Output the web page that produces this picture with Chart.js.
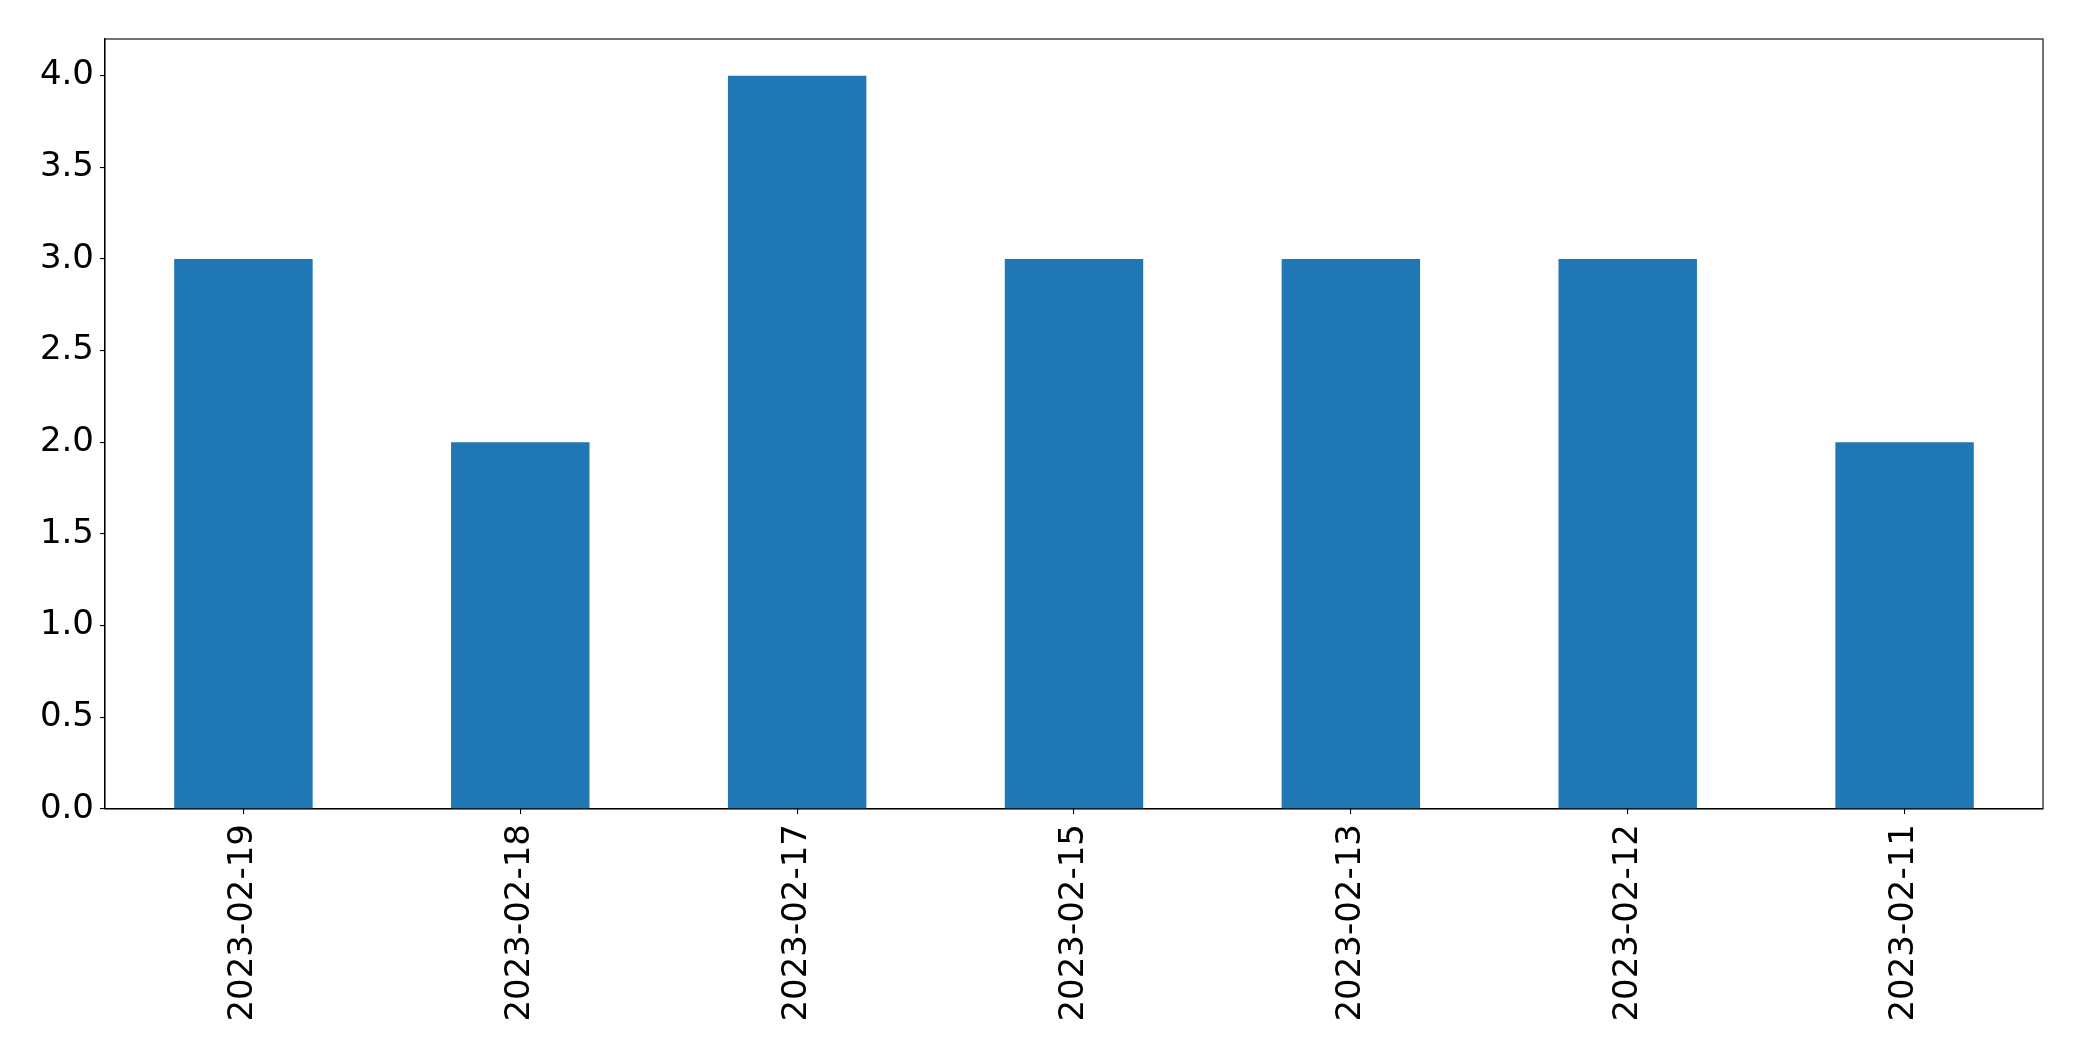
<!DOCTYPE html>
<html>
<head>
<meta charset="utf-8">
<script src="https://cdn.jsdelivr.net/npm/chart.js@4"></script>
<style>
  html, body { margin: 0; padding: 0; background: #fff; }
  #wrap { width: 2082px; height: 1061px; }
</style>
</head>
<body>
<div id="wrap"><canvas id="chart" width="2082" height="1061"></canvas></div>
<script>
const fechas = ["2023-02-19", "2023-02-18", "2023-02-17", "2023-02-15", "2023-02-13", "2023-02-12", "2023-02-11"];
const cantidades = [3, 2, 4, 3, 3, 3, 2];

// marco completo alrededor del area del grafico
const marco = {
  id: "marco",
  afterDraw(chart) {
    const { ctx, chartArea: a } = chart;
    ctx.save();
    ctx.strokeStyle = "#000";
    ctx.lineWidth = 1.1;
    ctx.strokeRect(a.left, a.top, a.right - a.left, a.bottom - a.top);
    ctx.restore();
  },
};

const config = {
  type: "bar",
  data: {
    labels: fechas,
    datasets: [
      {
        data: cantidades,
        backgroundColor: "#1f77b4",
        borderWidth: 0,
        barPercentage: 0.5,
        categoryPercentage: 1.0,
      },
    ],
  },
  options: {
    responsive: false,
    animation: false,
    layout: { padding: { top: 39, right: 39, left: 0, bottom: 0 } },
    plugins: { legend: { display: false }, tooltip: { enabled: false } },
    scales: {
      x: {
        grid: { display: true, offset: false, drawOnChartArea: false, drawTicks: true, tickLength: 5, color: "#000", lineWidth: 1.1 },
        border: { display: true, color: "#000", width: 1.1 },
        ticks: {
          color: "#000",
          font: { family: "DejaVu Sans", size: 34 },
          minRotation: 90,
          maxRotation: 90,
          padding: 10,
          autoSkip: false,
        },
        afterFit(scale) { scale.height = 252; },
      },
      y: {
        min: 0,
        max: 4.2,
        grid: { display: true, drawOnChartArea: false, drawTicks: true, tickLength: 5, color: "#000", lineWidth: 1.1 },
        border: { display: true, color: "#000", width: 1.1 },
        ticks: {
          stepSize: 0.5,
          includeBounds: false,
          color: "#000",
          font: { family: "DejaVu Sans", size: 34 },
          padding: 6,
          callback: (v) => v.toFixed(1),
        },
        afterFit(scale) { scale.width = 105; },
      },
    },
  },
  plugins: [marco],
};

const canvas = document.getElementById("chart").getContext("2d");
const chart = new Chart(canvas, config);
</script>
</body>
</html>
